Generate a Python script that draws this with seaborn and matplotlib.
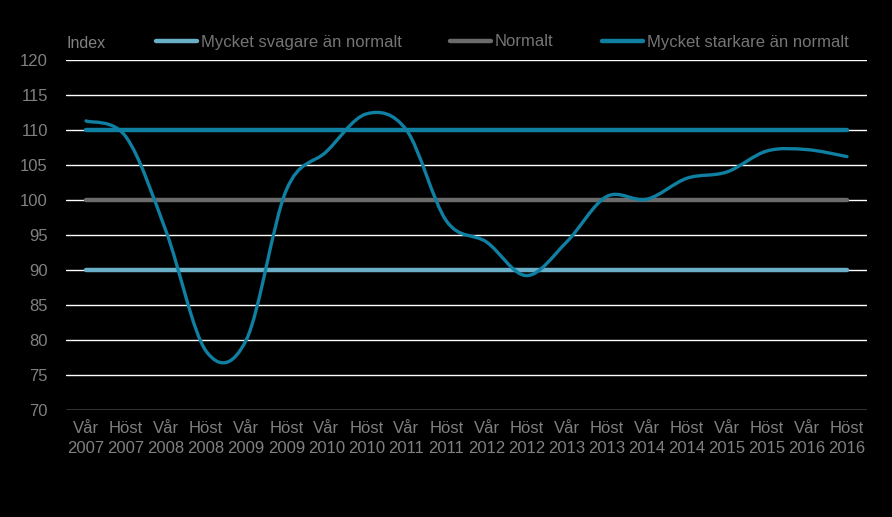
import matplotlib
matplotlib.use("Agg")
import matplotlib.pyplot as plt
from matplotlib.path import Path
from matplotlib.patches import PathPatch
import pandas as pd
import seaborn as sns

seasons = ['Vår', 'Höst'] * 10
years = [str(y) for y in range(2007, 2017) for _ in range(2)]
labels = [s + '\n' + y for s, y in zip(seasons, years)]

index_values = [111.3, 109.0, 95.5, 78.4, 80.0, 101.4, 106.9, 112.3, 110.0, 97.0,
                94.0, 89.2, 94.0, 100.5, 100.1, 103.1, 104.0, 107.0, 107.2, 106.2]

ref_names = ['Mycket svagare än normalt', 'Normalt', 'Mycket starkare än normalt']
ref_levels = [90, 100, 110]
ref_colors = ['#6aafc8', '#6b6b6b', '#0f7fa2']
curve_color = '#0f7fa2'
text_color = '#808080'


def smooth_path(xs, ys):
    # Excel-style smoothed line: cubic bezier through every point
    pts = list(zip(xs, ys))
    n = len(pts)
    verts = [pts[0]]
    codes = [Path.MOVETO]
    for i in range(n - 1):
        p0 = pts[i - 1] if i > 0 else pts[i]
        p1 = pts[i]
        p2 = pts[i + 1]
        p3 = pts[i + 2] if i + 2 < n else pts[i + 1]
        c1 = (p1[0] + (p2[0] - p0[0]) / 6.0, p1[1] + (p2[1] - p0[1]) / 6.0)
        c2 = (p2[0] - (p3[0] - p1[0]) / 6.0, p2[1] - (p3[1] - p1[1]) / 6.0)
        verts += [c1, c2, p2]
        codes += [Path.CURVE4] * 3
    return Path(verts, codes)


def main():
    sns.set_style("dark", {'axes.facecolor': 'black', 'figure.facecolor': 'black'})
    plt.rcParams['font.family'] = ['Liberation Sans', 'DejaVu Sans']

    fig = plt.figure(figsize=(8.92, 5.17), dpi=100)
    ax = fig.add_axes([66 / 892, 1 - 410 / 517, 801 / 892, 350 / 517])
    ax.set_facecolor('black')

    rows = []
    for name, level in zip(ref_names, ref_levels):
        for i in range(len(labels)):
            rows.append({'x': i, 'value': level, 'serie': name})
    df = pd.DataFrame(rows)

    sns.lineplot(data=df, x='x', y='value', hue='serie', hue_order=ref_names,
                 palette=ref_colors, linewidth=3.2, ax=ax, zorder=3)

    xs = list(range(len(index_values)))
    ax.add_patch(PathPatch(smooth_path(xs, index_values), facecolor='none',
                           edgecolor=curve_color, linewidth=2.4, zorder=4,
                           capstyle='round'))

    ax.set_xlim(-0.5, len(labels) - 0.5)
    ax.set_ylim(70, 120)
    ax.set_yticks(range(70, 121, 5))
    ax.set_xticks(xs)
    ax.set_xticklabels(labels, linespacing=1.4)
    ax.grid(False)
    for v in range(70, 121, 5):
        ax.axhline(v, color='white', linewidth=1.0, zorder=1)
    for s in ax.spines.values():
        s.set_visible(False)
    ax.tick_params(axis='both', length=0, colors=text_color, labelsize=12)
    ax.tick_params(axis='y', pad=13)
    ax.tick_params(axis='x', pad=8)
    ax.set_xlabel('')
    ax.set_ylabel('')

    fig.text(67 / 892, 1 - 43 / 517, 'Index', color=text_color, fontsize=11.5,
             va='center', ha='left')

    leg = ax.legend(loc='center', bbox_to_anchor=(502 / 892, 1 - 42 / 517),
                    bbox_transform=fig.transFigure, ncol=3, frameon=False,
                    handlelength=2.5, handletextpad=0.2, columnspacing=2.9,
                    fontsize=12)
    for t in leg.get_texts():
        t.set_color('#757575')

    fig.savefig('out.png', dpi=100, facecolor='black')


if __name__ == "__main__":
    main()
